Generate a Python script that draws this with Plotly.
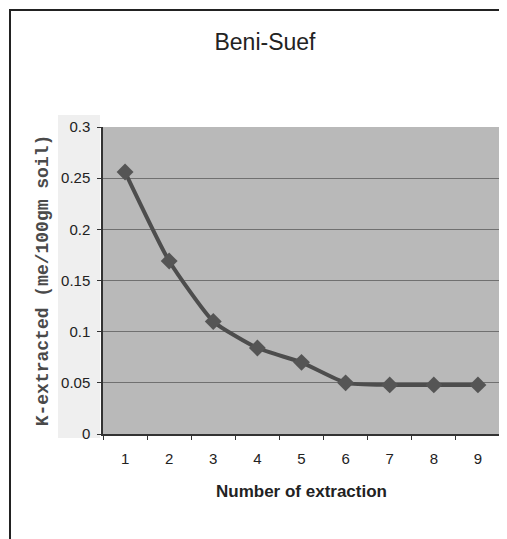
import plotly.graph_objects as go

extraction = [1, 2, 3, 4, 5, 6, 7, 8, 9]
k_extracted = [0.256, 0.169, 0.110, 0.084, 0.070, 0.050, 0.048, 0.048, 0.048]
y_ticks = [0, 0.05, 0.1, 0.15, 0.2, 0.25, 0.3]
y_tick_text = ["0", "0.05", "0.1", "0.15", "0.2", "0.25", "0.3"]

# page body has an 8px margin, so the figure is shifted by that amount
W, H = 499, 531
L, R, T, B = 95, 7, 119, 105
pw, ph = W - L - R, H - T - B

fig = go.Figure(go.Scatter(
    x=extraction, y=k_extracted, mode="lines+markers",
    line=dict(color="#4d4d4d", width=4, shape="spline", smoothing=0.5),
    marker=dict(symbol="diamond", size=13, color="#555555"),
))

fig.update_layout(
    width=W, height=H,
    margin=dict(l=L, r=R, t=T, b=B),
    paper_bgcolor="white", plot_bgcolor="#b9b9b9",
    showlegend=False,
    font=dict(family="Liberation Sans, Arial", color="#222"),
    title=dict(text="Beni-Suef", xref="paper", x=(257 - L) / pw, xanchor="center",
               y=1 - 34 / H, yanchor="middle", font=dict(size=23, color="#222")),
)
fig.update_xaxes(
    range=[0.5, 9.5], tickvals=extraction, ticks="", showgrid=False,
    minor=dict(ticks="outside", tick0=0.5, dtick=1, ticklen=4, tickcolor="#333"),
    showline=True, linecolor="#333", linewidth=1.5, zeroline=False,
    ticklabelstandoff=10, tickfont=dict(size=15),
    title=dict(text="<b>Number of extraction</b>", font=dict(size=17), standoff=19),
)
fig.update_yaxes(
    range=[0, 0.3], tickvals=y_ticks, ticktext=y_tick_text, ticks="outside", ticklen=4,
    tickcolor="#333", showgrid=True, gridcolor="#707070", gridwidth=1,
    showline=True, linecolor="#333", linewidth=1.5, zeroline=False,
    ticklabelstandoff=4, tickfont=dict(size=15),
    title=dict(text="<b>K-extracted (me/100gm soil)</b>",
               font=dict(size=18, family="Liberation Mono, Courier New", color="#4a4a4a"), standoff=8),
)

# light band behind the y tick labels
fig.add_shape(type="rect", xref="paper", yref="paper", layer="below",
              x0=(50 - L) / pw, x1=(92 - L) / pw, y0=-4 / ph, y1=1 + 12 / ph,
              line=dict(width=0), fillcolor="#efefef")

# outer chart frame (runs off the right and bottom of the picture)
fig.add_shape(type="rect", xref="paper", yref="paper",
              x0=(2 - L) / pw, x1=1 + (R + 10) / pw, y0=-(B + 10) / ph, y1=1 + (T - 2) / ph,
              line=dict(color="#222", width=2), fillcolor="rgba(0,0,0,0)")

fig.write_html("out.html")
